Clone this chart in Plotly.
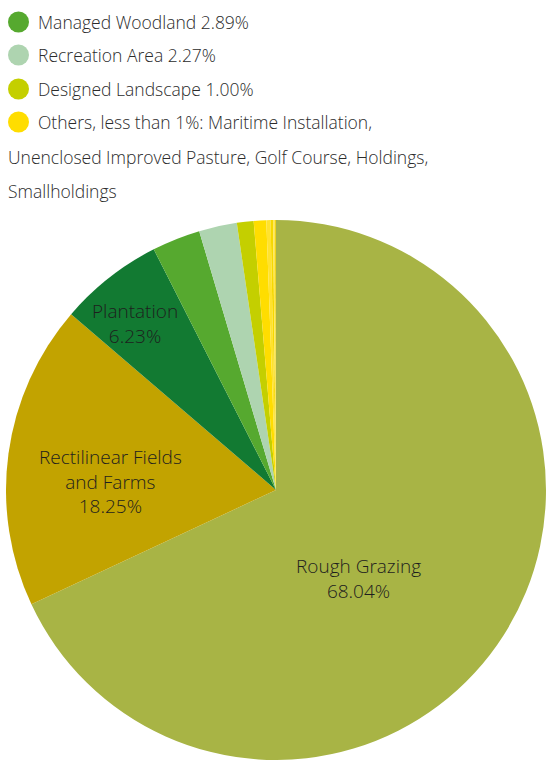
import plotly.graph_objects as go

# Land-use categories and their share of the area (%)
labels = [
    "Rough Grazing",
    "Rectilinear Fields and Farms",
    "Plantation",
    "Managed Woodland",
    "Recreation Area",
    "Designed Landscape",
    "Maritime Installation",
    "Unenclosed Improved Pasture",
    "Golf Course",
    "Holdings",
    "Smallholdings",
]
values = [68.04, 18.25, 6.23, 2.89, 2.27, 1.00, 0.75, 0.25, 0.15, 0.10, 0.07]
colors = [
    "#A8B445", "#C2A300", "#127A32", "#56A92F", "#AED4B0", "#C4CF00",
    "#FFDD00", "#FFE22E", "#F6D800", "#FFE64D", "#EFD21A",
]

# Slices that carry an in-pie label, with the label's line breaks
labelled_slices = {
    "Rough Grazing": "Rough Grazing",
    "Rectilinear Fields and Farms": "Rectilinear Fields<br>and Farms",
    "Plantation": "Plantation",
}

# Legend entries drawn above the pie
legend_items = [
    ("Managed Woodland 2.89%", "#56A92F"),
    ("Recreation Area 2.27%", "#AED4B0"),
    ("Designed Landscape 1.00%", "#C4CF00"),
    ("Others, less than 1%: Maritime Installation,", "#FFDD00"),
]
legend_continuation = [
    "Unenclosed Improved Pasture, Golf Course, Holdings,",
    "Smallholdings",
]

W, H = 547, 760
FONT = "Open Sans"
TEXT_COLOR = "#2b2b2b"
LABEL_COLOR = "#1e1e1e"
LEGEND_SIZE = 17.5

fig = go.Figure(
    go.Pie(
        labels=labels,
        values=values,
        textinfo="none",
        marker=dict(colors=colors, line=dict(width=0)),
        sort=False,
        direction="clockwise",
        rotation=0,
        showlegend=False,
        hoverinfo="label+percent",
        domain=dict(x=[5 / W, 1.0], y=[0.0, (H - 220) / H]),
    )
)

annotations = []
shapes = []

# In-pie labels (pixel centres within the figure)
label_pos = {
    "Rough Grazing": (358, 578),
    "Rectilinear Fields and Farms": (110, 481),
    "Plantation": (135, 323),
}
for name, val in zip(labels, values):
    if name not in labelled_slices:
        continue
    px, py = label_pos[name]
    annotations.append(dict(
        text=f"{labelled_slices[name]}<br>{val:.2f}%",
        xref="paper", yref="paper", x=px / W, y=1 - py / H,
        xanchor="center", yanchor="middle", showarrow=False,
        font=dict(family=FONT, size=19, color=LABEL_COLOR, weight=300),
    ))

row_y = [22, 55, 89, 122]
for (txt, col), y in zip(legend_items, row_y):
    shapes.append(dict(
        type="circle", xref="paper", yref="paper",
        x0=8 / W, x1=29 / W, y0=1 - (y + 10.5) / H, y1=1 - (y - 10.5) / H,
        fillcolor=col, line=dict(width=0),
    ))
    annotations.append(dict(
        text=txt, xref="paper", yref="paper", x=36 / W, y=1 - y / H,
        xanchor="left", yanchor="middle", showarrow=False,
        font=dict(family=FONT, size=LEGEND_SIZE, color=TEXT_COLOR, weight=300),
    ))
for txt, y in zip(legend_continuation, [157, 191]):
    annotations.append(dict(
        text=txt, xref="paper", yref="paper", x=6 / W, y=1 - y / H,
        xanchor="left", yanchor="middle", showarrow=False,
        font=dict(family=FONT, size=LEGEND_SIZE, color=TEXT_COLOR, weight=300),
    ))

fig.update_layout(
    width=W, height=H,
    margin=dict(l=0, r=0, t=0, b=0),
    paper_bgcolor="white",
    plot_bgcolor="white",
    shapes=shapes,
    annotations=annotations,
)

fig.write_html("out.html")
